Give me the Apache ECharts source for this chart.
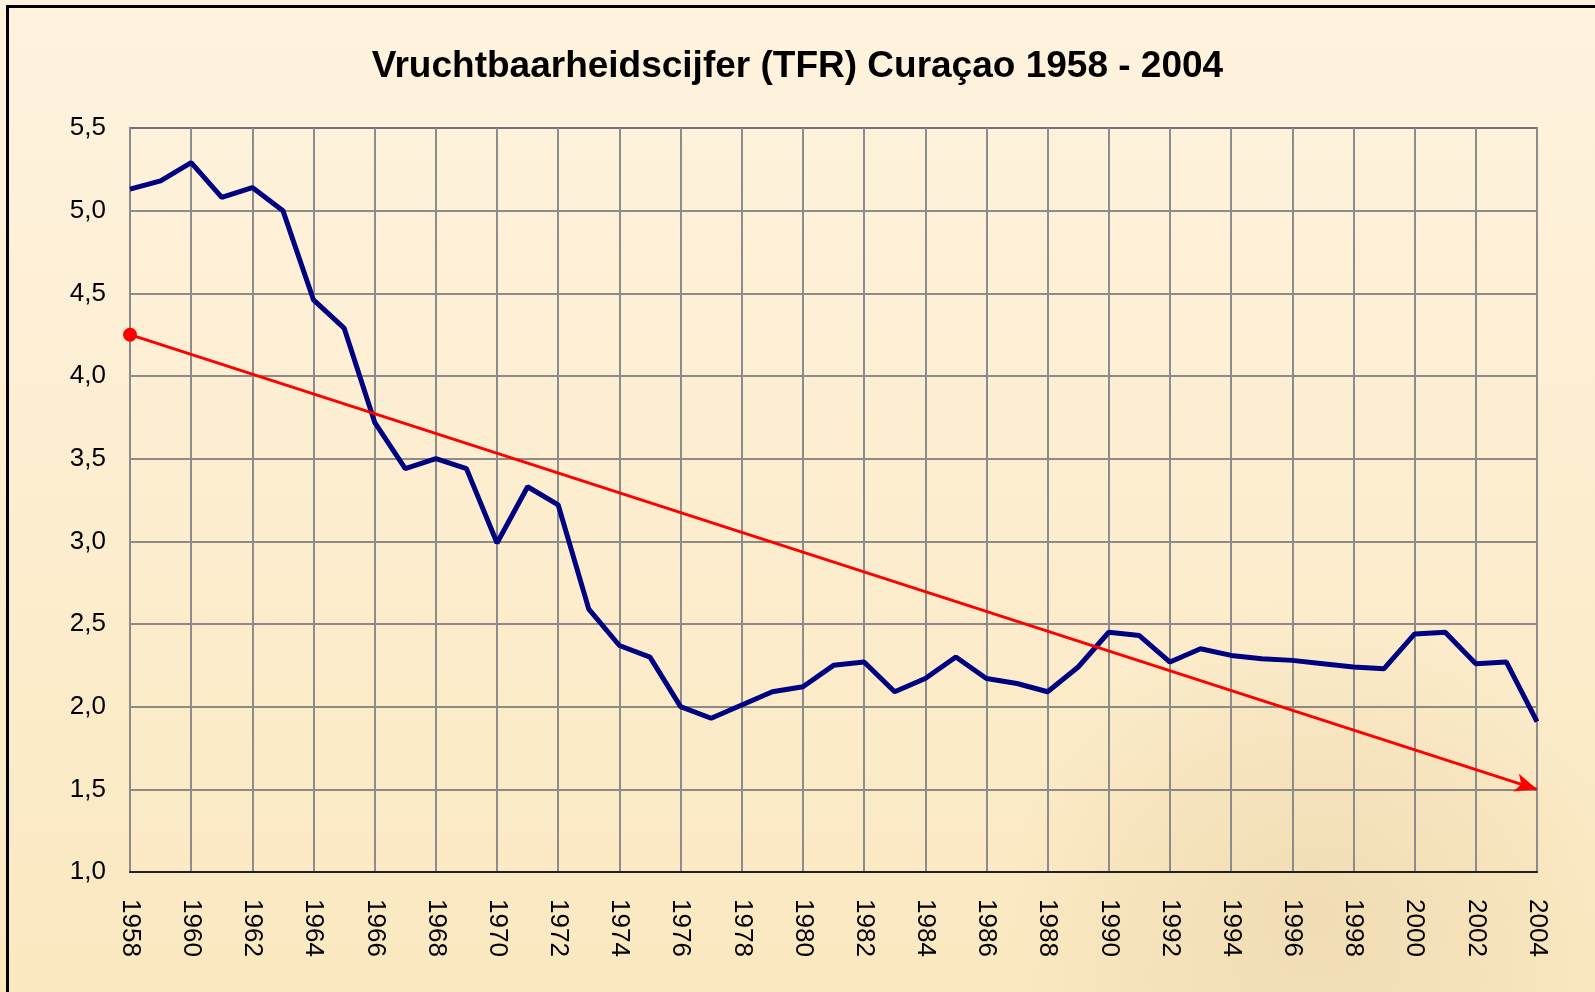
<!DOCTYPE html>
<html>
<head>
<meta charset="utf-8">
<script src="https://cdn.jsdelivr.net/npm/echarts@6/dist/echarts.min.js"></script>
<style>
  html, body { margin: 0; padding: 0; }
  #main { width: 1595px; height: 992px; }
</style>
</head>
<body>
<div id="main"></div>
<script>
var myChart = echarts.init(document.getElementById('main'));

// jaren 1958 - 2004
var years = [];
for (var y = 1958; y <= 2004; y++) years.push(String(y));

// TFR per jaar
var tfr = [5.13, 5.18, 5.29, 5.08, 5.14, 5.0, 4.46, 4.29, 3.72, 3.44,
           3.50, 3.44, 2.99, 3.33, 3.22, 2.59, 2.37, 2.30, 2.00, 1.93,
           2.01, 2.09, 2.12, 2.25, 2.27, 2.09, 2.17, 2.30, 2.17, 2.14,
           2.09, 2.24, 2.45, 2.43, 2.27, 2.35, 2.31, 2.29, 2.28, 2.26,
           2.24, 2.23, 2.44, 2.45, 2.26, 2.27, 1.91];

// trendpijl: begin en eind
var trendStart = ['1958', 4.25];
var trendEnd = ['2004', 1.5];

var option = {
    backgroundColor: {
        type: 'linear', x: 0, y: 0, x2: 0, y2: 1,
        colorStops: [
            {offset: 0, color: '#fff3df'},
            {offset: 1, color: '#fae8c0'}
        ]
    },
    animation: false,
    graphic: [
        // vage foto rechtsonder
        {
            type: 'rect', z: -10, silent: true,
            shape: {x: 600, y: 580, width: 995, height: 412},
            style: {
                fill: {
                    type: 'radial', x: 0.72, y: 0.8, r: 0.75,
                    colorStops: [
                        {offset: 0, color: 'rgba(205,175,125,0.22)'},
                        {offset: 0.6, color: 'rgba(215,185,135,0.12)'},
                        {offset: 1, color: 'rgba(220,190,140,0)'}
                    ]
                }
            }
        },
        // kader
        {
            type: 'rect', silent: true,
            shape: {x: 7.5, y: 6.5, width: 1700, height: 1100},
            style: {fill: 'none', stroke: '#000', lineWidth: 3}
        }
    ],
    title: {
        text: 'Vruchtbaarheidscijfer (TFR) Curaçao 1958 - 2004',
        left: 'center',
        top: 43,
        textStyle: {
            fontFamily: 'Liberation Sans, Arial',
            fontWeight: 'bold',
            fontSize: 37,
            color: '#000'
        }
    },
    grid: {
        left: 130,
        right: 58,
        top: 128,
        bottom: 120,
        show: true,
        borderColor: '#8a8a8a',
        borderWidth: 2
    },
    xAxis: {
        type: 'category',
        data: years,
        boundaryGap: false,
        axisLine: {lineStyle: {color: '#222', width: 2}},
        axisTick: {show: false},
        axisLabel: {
            interval: 1,
            rotate: -90,
            margin: 27,
            fontSize: 26,
            fontFamily: 'Liberation Sans, Arial',
            color: '#000'
        },
        splitLine: {
            show: true,
            interval: 1,
            lineStyle: {color: '#8c8c8c', width: 2}
        }
    },
    yAxis: {
        type: 'value',
        min: 1,
        max: 5.5,
        interval: 0.5,
        axisLine: {show: true, lineStyle: {color: '#8a8a8a', width: 2}},
        axisTick: {show: false},
        axisLabel: {
            margin: 24,
            fontSize: 26,
            fontFamily: 'Liberation Sans, Arial',
            color: '#000',
            formatter: function (v) { return v.toFixed(1).replace('.', ','); }
        },
        splitLine: {lineStyle: {color: '#6a6a6a', width: 1.5}}
    },
    series: [
        {
            name: 'TFR',
            type: 'line',
            data: tfr,
            symbol: 'none',
            lineStyle: {color: '#000080', width: 5},
            z: 3
        },
        {
            name: 'trend',
            type: 'line',
            data: [],
            markLine: {
                silent: true,
                symbol: ['circle', 'arrow'],
                symbolSize: [14, 22],
                label: {show: false},
                lineStyle: {color: '#ff0000', width: 3, type: 'solid'},
                data: [[
                    {coord: trendStart},
                    {coord: trendEnd}
                ]]
            },
            z: 4
        }
    ]
};

myChart.setOption(option);
</script>
</body>
</html>
